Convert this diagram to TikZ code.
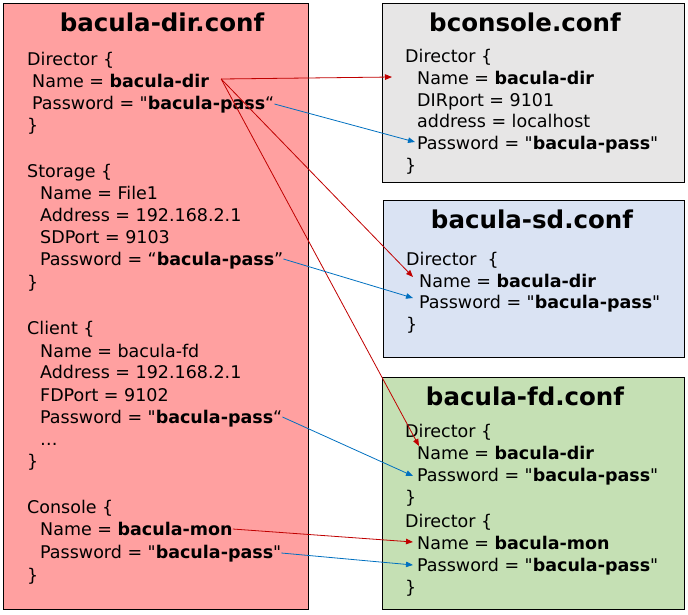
\documentclass[tikz,border=0pt]{standalone}
\usepackage{fontspec}
\setmainfont{DejaVu Sans}[Ligatures=TeXOff]
\usetikzlibrary{arrows.meta,calc}
\definecolor{dirfill}{HTML}{FFA0A0}
\definecolor{bcfill}{HTML}{E7E6E6}
\definecolor{sdfill}{HTML}{DAE3F3}
\definecolor{fdfill}{HTML}{C5E0B4}
\definecolor{redline}{HTML}{C00000}
\definecolor{blueline}{HTML}{0070C0}
\tikzset{
  txt/.style={anchor=base west,inner sep=0pt,font=\fontsize{17.5}{21}\selectfont},
  ttl/.style={anchor=base,inner sep=0pt,font=\fontsize{24.5}{28}\selectfont\bfseries},
  box/.style={draw=black,line width=0.8pt},
  redarr/.style={draw=redline,line width=0.8pt,-{Triangle[length=7pt,width=5.5pt]}},
  bluearr/.style={draw=blueline,line width=0.8pt,-{Triangle[length=7pt,width=5.5pt]}}
}
\begin{document}
\begin{tikzpicture}[x=1pt,y=-1pt]
\useasboundingbox (0,0) rectangle (688,614);
% boxes
\draw[box,fill=dirfill] (3,3) rectangle (308,609);
\draw[box,fill=bcfill] (382,3) rectangle (684,182);
\draw[box,fill=sdfill] (383,200) rectangle (684,357);
\draw[box,fill=fdfill] (382,377) rectangle (684,609);
% bacula-dir.conf
\node[ttl] (dt) at (162,31) {bacula-dir.conf};
\node[txt] (d1) at (27,65) {Director \{};
\node[txt] (d2) at (32,87) {Name = \textbf{bacula-dir}};
\node[txt] (d3) at (32,109) {Password = "\textbf{bacula-pass}“};
\node[txt] (d4) at (27,131) {\}};
\node[txt] (s1) at (27,177) {Storage \{};
\node[txt] (s2) at (40,199) {Name = File1};
\node[txt] (s3) at (40,221) {Address = 192.168.2.1};
\node[txt] (s4) at (40,243) {SDPort = 9103};
\node[txt] (s5) at (40,265) {Password = “\textbf{bacula-pass}”};
\node[txt] (s6) at (27,288) {\}};
\node[txt] (c1) at (27,334) {Client \{};
\node[txt] (c2) at (40,357) {Name = bacula-fd};
\node[txt] (c3) at (40,378) {Address = 192.168.2.1};
\node[txt] (c4) at (40,401) {FDPort = 9102};
\node[txt] (c5) at (40,423) {Password = "\textbf{bacula-pass}“};
\node[txt] (c6) at (40,445) {…};
\node[txt] (c7) at (27,467) {\}};
\node[txt] (k1) at (27,513) {Console \{};
\node[txt] (k2) at (40,535) {Name = \textbf{bacula-mon}};
\node[txt] (k3) at (40,558) {Password = "\textbf{bacula-pass}"};
\node[txt] (k4) at (27,581) {\}};
% bconsole.conf
\node[ttl] (bt) at (525,31) {bconsole.conf};
\node[txt] (b1) at (405,62) {Director \{};
\node[txt] (b2) at (417,84) {Name = \textbf{bacula-dir}};
\node[txt] (b3) at (417,106) {DIRport = 9101};
\node[txt] (b4) at (417,127) {address = localhost};
\node[txt] (b5) at (417,149) {Password = "\textbf{bacula-pass}"};
\node[txt] (b6) at (405,171) {\}};
% bacula-sd.conf
\node[ttl] (et) at (532,228) {bacula-sd.conf};
\node[txt] (e1) at (406,265) {Director\ \ \{};
\node[txt] (e2) at (419,287) {Name = \textbf{bacula-dir}};
\node[txt] (e3) at (419,308) {Password = "\textbf{bacula-pass}"};
\node[txt] (e4) at (406,330) {\}};
% bacula-fd.conf
\node[ttl] (ft) at (525,405) {bacula-fd.conf};
\node[txt] (f1) at (405,437) {Director \{};
\node[txt] (f2) at (417,459) {Name = \textbf{bacula-dir}};
\node[txt] (f3) at (417,481) {Password = "\textbf{bacula-pass}"};
\node[txt] (f4) at (405,503) {\}};
\node[txt] (f5) at (405,527) {Director \{};
\node[txt] (f6) at (417,549) {Name = \textbf{bacula-mon}};
\node[txt] (f7) at (417,571) {Password = "\textbf{bacula-pass}"};
\node[txt] (f8) at (405,593) {\}};
% connectors
\coordinate (dstart) at ($(d2.base east)+(12pt,8pt)$);
\draw[redarr] (dstart) -- ($(b2.base west)+(-25pt,7pt)$);
\draw[redarr] (dstart) -- ($(e2.base west)+(-6pt,10pt)$);
\draw[redarr] (dstart) -- ($(f2.base west)+(2pt,13pt)$);
\draw[bluearr] ($(d3.base east)+(0pt,5pt)$) -- ($(b5.base west)+(-2pt,7pt)$);
\draw[bluearr] ($(s5.base east)+(0pt,6pt)$) -- ($(e3.base west)+(-6pt,10pt)$);
\draw[bluearr] ($(c5.base east)+(0pt,6pt)$) -- ($(f3.base west)+(-4pt,5pt)$);
\draw[redarr] ($(k2.base east)+(0pt,6pt)$) -- ($(f6.base west)+(-4pt,7pt)$);
\draw[bluearr] ($(k3.base east)+(0pt,5pt)$) -- ($(f7.base west)+(-4pt,6pt)$);
\end{tikzpicture}
\end{document}
